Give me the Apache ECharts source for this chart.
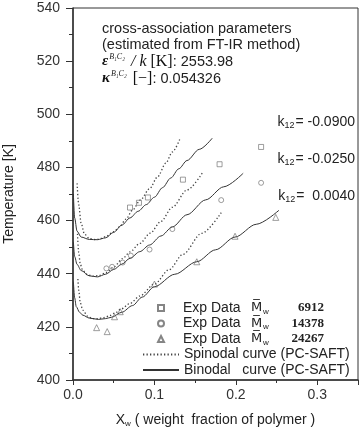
<!DOCTYPE html>
<html>
<head>
<meta charset="utf-8">
<script src="https://cdn.jsdelivr.net/npm/echarts@6/dist/echarts.min.js"></script>
<style>html,body{margin:0;padding:0;background:#fff}#main{width:359px;height:427px}</style>
</head>
<body>
<div id="main"></div>
<script>
// 实验浊点数据 [x_w, T]
var expMw6912 = [[0.070,464.9],[0.081,466.7],[0.092,468.7],[0.135,475.4],[0.180,481.2],[0.231,487.7]];
var expMw14378 = [[0.041,442.0],[0.048,442.6],[0.061,444.2],[0.071,446.8],[0.094,449.1],[0.122,456.8],[0.182,467.7],[0.231,474.2]];
var expMw24267 = [[0.029,419.7],[0.042,418.2],[0.051,423.8],[0.058,425.7],[0.100,436.1],[0.152,444.5],[0.199,454.1],[0.249,461.2]];

// PC-SAFT 计算曲线
var binodalA = [[0.0005,470],[0.002,461],[0.005,456],[0.01,453.8],[0.02,452.9],[0.03,452.8],[0.04,453.5],[0.05,455.6],[0.06,458.3],[0.07,461],[0.08,463.5],[0.09,466],[0.10,468.8],[0.11,472.4],[0.12,476],[0.13,479.5],[0.14,482.6],[0.155,486.8],[0.171,491]];
var spinodalA = [[0.005,474],[0.007,466],[0.01,459],[0.014,455],[0.02,453.2],[0.028,452.8],[0.035,453.3],[0.041,454.1],[0.05,455.8],[0.057,457.6],[0.065,460.5],[0.073,463.9],[0.083,467.8],[0.094,472],[0.104,476.5],[0.114,481.6],[0.122,485.8],[0.131,490.5]];
var binodalB = [[0.0005,452],[0.002,446.5],[0.005,443.5],[0.01,441.2],[0.02,439.2],[0.03,438.8],[0.04,439.8],[0.05,441.6],[0.06,443.6],[0.07,445.8],[0.082,448.3],[0.094,450.8],[0.108,454.2],[0.122,457.6],[0.14,462.2],[0.163,467.8],[0.185,472.7],[0.209,477.8]];
var spinodalB = [[0.0055,455],[0.007,448],[0.009,443.5],[0.012,441.2],[0.018,439.6],[0.025,439.1],[0.032,439.3],[0.04,440.3],[0.05,442.5],[0.061,445.7],[0.07,448.2],[0.082,451.4],[0.095,455.3],[0.108,459.7],[0.122,465],[0.14,471.5],[0.159,478]];
var binodalC = [[0.0005,437],[0.002,431],[0.004,427.6],[0.008,425.5],[0.012,424.4],[0.02,423.3],[0.031,422.8],[0.04,423.1],[0.047,423.6],[0.06,425.5],[0.073,428],[0.085,431.2],[0.1,435.1],[0.125,439.8],[0.152,444.5],[0.175,449],[0.199,453.8],[0.225,458.6],[0.253,463.9]];
var spinodalC = [[0.006,438],[0.007,433.8],[0.009,429],[0.012,426.3],[0.018,424],[0.024,423.1],[0.03,423.1],[0.038,423.5],[0.045,424.2],[0.052,425.3],[0.059,426.7],[0.07,428.8],[0.082,431.6],[0.1,436.1],[0.118,441.5],[0.135,447.3],[0.158,455.2],[0.182,463]];

var mwNames = ['6912', '14378', '24267'];
var k12Labels = ['-0.0900', '-0.0250', ' 0.0040'];

var SANS = '"Liberation Sans", Arial, sans-serif';
var SERIF = '"Liberation Serif", "Times New Roman", serif';
var SPIN = 'Spinodal curve (PC-SAFT)';
var BIN = 'Binodal   curve (PC-SAFT)';

function expSeries(name, sym, size, data) {
    return {
        name: name, type: 'scatter', symbol: sym, symbolSize: size, data: data,
        itemStyle: {color: 'rgba(0,0,0,0)', borderColor: '#666', borderWidth: 0.8},
        z: 3
    };
}
function curve(name, dotted, data) {
    return {
        name: name, type: 'line', data: data, symbol: 'none',
        smooth: 0.3, smoothMonotone: 'x',
        itemStyle: {color: '#333'},
        lineStyle: {color: dotted ? '#444' : '#333', width: dotted ? 1.3 : 1, type: dotted ? [1.3, 2.2] : 'solid'}
    };
}

var myChart = echarts.init(document.getElementById('main'));

var k12Graphics = k12Labels.map(function (v, i) {
    return {
        type: 'text', right: 4, top: [115, 152, 189][i],
        style: {
            text: '{k|k}{s|12}{t|= ' + v + '}',
            rich: {
                k: {font: '14px ' + SANS, fill: '#222'},
                s: {font: '9px ' + SANS, fill: '#222', padding: [7, 1, 0, 0]},
                t: {font: '14px ' + SANS, fill: '#222'}
            }
        }
    };
});

var option = {
    animation: false,
    grid: {left: 73, right: 1, top: 8, bottom: 47, show: true, borderColor: '#333', borderWidth: 1,
        containLabel: false, outerBoundsMode: 'none'},
    xAxis: {
        type: 'value', min: 0, max: 0.35, interval: 0.1,
        name: '{x|X}{w|w}{t| ( weight  fraction of polymer )}',
        nameLocation: 'middle', nameGap: 32,
        nameTextStyle: {
            rich: {
                x: {fontSize: 14, fontFamily: SANS, color: '#222'},
                w: {fontSize: 8, fontFamily: SANS, color: '#222', padding: [8, 0, 0, 0]},
                t: {fontSize: 14, fontFamily: SANS, color: '#222'}
            }
        },
        axisLine: {lineStyle: {color: '#333', width: 1.5}},
        axisTick: {inside: false, length: 5, lineStyle: {color: '#333'}},
        minorTick: {show: true, splitNumber: 2, length: 3, lineStyle: {color: '#333'}},
        axisLabel: {
            fontSize: 14, fontFamily: SANS, color: '#333', margin: 8, showMaxLabel: false,
            formatter: function (v) { return v.toFixed(1); }
        },
        splitLine: {show: false}
    },
    yAxis: {
        type: 'value', min: 400, max: 540, interval: 20,
        name: 'Temperature [K]', nameLocation: 'middle', nameGap: 57,
        nameTextStyle: {fontSize: 14, fontFamily: SANS, color: '#222'},
        axisLine: {show: true, lineStyle: {color: '#333', width: 1.5}},
        axisTick: {show: true, inside: false, length: 7, lineStyle: {color: '#333'}},
        minorTick: {show: true, splitNumber: 2, length: 4, lineStyle: {color: '#333'}},
        axisLabel: {fontSize: 14, fontFamily: SANS, color: '#333', margin: 13},
        splitLine: {show: false}
    },
    legend: [{
        orient: 'vertical', left: 152, top: 295.5, itemWidth: 6, itemHeight: 6, itemGap: 0.5,
        selectedMode: false,
        data: mwNames.map(function (m) { return 'Exp Data ' + m; }),
        formatter: function (name) {
            return '{t|Exp Data}{m|M\u0305}{s|w}{n|' + name.replace('Exp Data ', '') + '}';
        },
        textStyle: {
            lineHeight: 15,
            rich: {
                t: {fontSize: 14, fontFamily: SANS, color: '#222', width: 68, padding: [0, 0, 0, 14], lineHeight: 15},
                m: {fontSize: 13, fontFamily: '"DejaVu Sans", sans-serif', color: '#222', width: 11, lineHeight: 15},
                s: {fontSize: 8, fontFamily: SANS, color: '#222', width: 6, padding: [7, 0, 0, 1], lineHeight: 15},
                n: {fontSize: 13, fontFamily: SERIF, fontWeight: 'bold', color: '#222', width: 55, align: 'right', lineHeight: 15}
            }
        }
    }, {
        orient: 'vertical', left: 137, top: 342, itemWidth: 36, itemHeight: 15, itemGap: 0.5,
        selectedMode: false,
        itemStyle: {color: 'rgba(0,0,0,0)', borderWidth: 0},
        data: [SPIN, BIN],
        textStyle: {fontSize: 14, fontFamily: SANS, color: '#222', lineHeight: 15}
    }],
    graphic: [
        {type: 'text', left: 102, top: 21, style: {text: 'cross-association parameters', font: '14.5px ' + SANS, fill: '#222'}},
        {type: 'text', left: 102, top: 37, style: {text: '(estimated from FT-IR method)', font: '14.5px ' + SANS, fill: '#222'}},
        {type: 'text', left: 102, top: 53, style: {
            text: '{e|\u03b5}{u|B\u2081C\u2082}{k| / k}{b| [K]}{n|: 2553.98}',
            rich: {
                e: {font: 'italic bold 15px ' + SERIF, fill: '#111'},
                u: {font: 'italic 8px ' + SERIF, fill: '#222', padding: [0, 2, 9, 1]},
                k: {font: 'italic 16px ' + SERIF, fill: '#111'},
                b: {font: '16px ' + SERIF, fill: '#111'},
                n: {font: '14.5px ' + SANS, fill: '#222'}
            }
        }},
        {type: 'text', left: 102, top: 70, style: {
            text: '{e|\u03ba}{u|B\u2081C\u2082}{b| [\u2212]}{n|: 0.054326}',
            rich: {
                e: {font: 'italic bold 15px ' + SERIF, fill: '#111'},
                u: {font: 'italic 8px ' + SERIF, fill: '#222', padding: [0, 2, 9, 1]},
                b: {font: '16px ' + SERIF, fill: '#111'},
                n: {font: '14.5px ' + SANS, fill: '#222'}
            }
        }}
    ].concat(k12Graphics),
    series: [
        expSeries('Exp Data ' + mwNames[0], 'rect', 5, expMw6912),
        expSeries('Exp Data ' + mwNames[1], 'circle', 5, expMw14378),
        expSeries('Exp Data ' + mwNames[2], 'triangle', 6, expMw24267),
        curve(SPIN, true, spinodalA),
        curve(SPIN, true, spinodalB),
        curve(SPIN, true, spinodalC),
        curve(BIN, false, binodalA),
        curve(BIN, false, binodalB),
        curve(BIN, false, binodalC)
    ]
};
myChart.setOption(option);
</script>
</body>
</html>
